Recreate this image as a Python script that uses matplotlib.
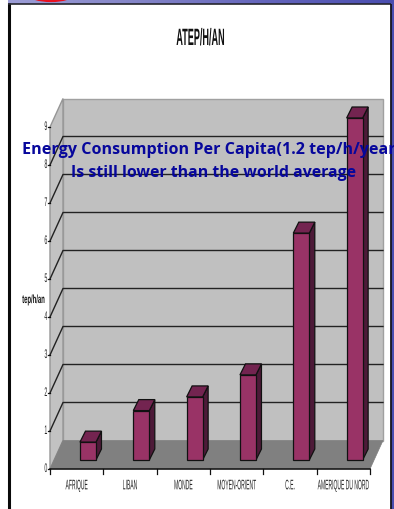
import numpy as np
import matplotlib
matplotlib.use("Agg")
import matplotlib.pyplot as plt
from matplotlib.patches import Polygon, Rectangle, Ellipse
from matplotlib.patheffects import AbstractPathEffect
from matplotlib.transforms import Affine2D
from matplotlib.colors import LinearSegmentedColormap

categories = ["AFRIQUE", "LIBAN", "MONDE", "MOYEN-ORIENT", "C.E.", "AMERIQUE DU NORD"]
values = [0.47, 1.3, 1.66, 2.24, 5.97, 9.0]
y_ticks = [0, 1, 2, 3, 4, 5, 6, 7, 8, 9]

W, H = 394, 510
fig = plt.figure(figsize=(W / 100, H / 100), dpi=100, facecolor="white")


class Condense(AbstractPathEffect):
    # squeezes glyphs horizontally around a fixed display x
    def __init__(self, sx, cx):
        self.sx = sx
        self.cx = cx

    def draw_path(self, renderer, gc, tpath, affine, rgbFace=None):
        squeeze = Affine2D().translate(-self.cx, 0).scale(self.sx, 1).translate(self.cx, 0)
        renderer.draw_path(gc, tpath, affine + squeeze, rgbFace)


def condensed(t, sx):
    cx = t.get_transform().transform(t.get_position())[0]
    t.set_path_effects([Condense(sx, cx)])
    return t


# page background in pixel coordinates
bg = fig.add_axes([0, 0, 1, 1])
cmap = LinearSegmentedColormap.from_list("slide", ["#9c9dd6", "#8485c8", "#6465bc", "#4a4eb0"])
grad = np.linspace(0, 1, 256).reshape(1, -1)
bg.imshow(grad, extent=[8, W, H, 0], aspect="auto", cmap=cmap, zorder=0)
bg.set_xlim(0, W)
bg.set_ylim(H, 0)
bg.axis("off")
bg.add_patch(Ellipse((51, -5), 44, 14, fc="#f4d8e4", ec="#e81020", lw=1.6, zorder=1))
bg.add_patch(Rectangle((8, 5), 383, 510, fc="white", ec="none", zorder=2))
bg.plot([8.7, 8.7], [4, H], color="#0a0a0a", lw=2.2, zorder=3, solid_capstyle="butt")
bg.plot([8, 391], [5.2, 5.2], color="#26262e", lw=1.2, zorder=3, solid_capstyle="butt")
bg.plot([390.8, 390.8], [4.5, H], color="#16161e", lw=1.3, zorder=3, solid_capstyle="butt")

# front plane of the chart: one unit of x per category, y in tep/h/an
ax = fig.add_axes([50 / W, 1 - 470 / H, 320 / W, 342 / H], zorder=3)
ax.set_xlim(0, 6)
ax.set_ylim(0, 9)
ax.patch.set_alpha(0)
for s in ax.spines.values():
    s.set_visible(False)
ax.set_xticks([])
ax.set_yticks([])

dx = 13 / (320 / 6)
dy = 28.5 / (342 / 9)


def poly(pts, **kw):
    ax.add_patch(Polygon(pts, closed=True, clip_on=False, **kw))


# walls and floor
poly([(dx, dy), (6 + dx, dy), (6 + dx, 9 + dy), (dx, 9 + dy)], fc="#c0c0c0", ec="#a0a0a0", lw=1)
poly([(0, 0), (dx, dy), (dx, 9 + dy), (0, 9)], fc="#c2c2c2", ec="#969696", lw=1)
poly([(0, 0), (6, 0), (6 + dx, dy), (dx, dy)], fc="#808080", ec="#808080", lw=0.5)

for v in y_ticks[1:-1]:
    yb = v + dy
    ax.plot([0, dx, 6 + dx], [v, yb, yb], color="#222222", lw=1, clip_on=False)

# axis lines and ticks
ax.plot([0, 6], [0, 0], color="#111111", lw=1.1, clip_on=False)
for i in range(7):
    ax.plot([i, i], [0, -0.13], color="#111111", lw=0.9, clip_on=False)
for v in y_ticks:
    ax.plot([0, -0.04], [v, v], color="#111111", lw=0.9, clip_on=False)
    t = ax.text(-0.05, v, str(v), ha="right", va="center", fontsize=9,
                family="Liberation Sans", color="#222222", clip_on=False)
    condensed(t, 0.42)
for i, c in enumerate(categories):
    t = ax.text(i + 0.5, -0.43, c, ha="center", va="center", fontsize=10,
                family="Liberation Sans", color="#222222", clip_on=False)
    condensed(t, 0.36)

# 3D bars
bw = 16 / (320 / 6)
bdx = 5.5 / (320 / 6)
bdy = 11 / (342 / 9)
y0 = 9 / (342 / 9)
shift = 11.3 / (320 / 6)
for i, v in enumerate(values):
    x0 = i + 0.5 + shift - bw / 2
    x1 = x0 + bw
    top = y0 + v
    poly([(x1, y0), (x1 + bdx, y0 + bdy), (x1 + bdx, top + bdy), (x1, top)], fc="#4d1a38", ec="#111111", lw=0.9, zorder=4)
    poly([(x0, top), (x1, top), (x1 + bdx, top + bdy), (x0 + bdx, top + bdy)], fc="#732450", ec="#111111", lw=0.9, zorder=4)
    poly([(x0, y0), (x1, y0), (x1, top), (x0, top)], fc="#993366", ec="#111111", lw=0.9, zorder=4)

t = fig.text(200.5 / W, 1 - 39.5 / H, "ATEP/H/AN", ha="center", va="center", fontsize=17, fontweight="bold",
             family="Liberation Sans", color="#111111", zorder=5)
condensed(t, 0.385)
t = fig.text(33.5 / W, 1 - 301 / H, "tep/h/an", ha="center", va="center", fontsize=8.5, fontweight="bold",
             family="Liberation Sans", color="#111111", zorder=5)
condensed(t, 0.5)

# overlaid caption
fig.text(22 / W, 1 - 150 / H, "Energy Consumption Per Capita(1.2 tep/h/year)", ha="left", va="center",
         fontsize=11.6, fontweight="bold", family="Open Sans", color="#07079c", zorder=6)
fig.text(214 / W, 1 - 173 / H, "Is still lower than the world average", ha="center", va="center",
         fontsize=11.4, fontweight="bold", family="Open Sans", color="#07079c", zorder=6)

fig.savefig("out.png", dpi=100)
